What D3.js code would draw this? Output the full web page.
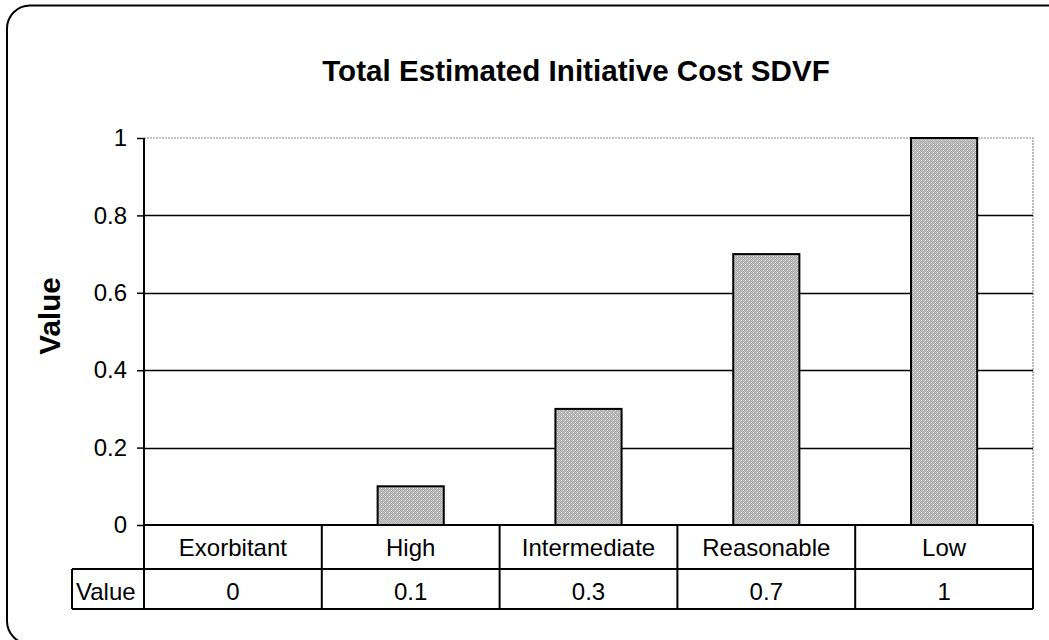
<!DOCTYPE html>
<html>
<head>
<meta charset="utf-8">
<script src="https://cdn.jsdelivr.net/npm/d3@7"></script>
<style>
  html, body { margin: 0; padding: 0; background: #fff; }
  svg { display: block; font-family: "Liberation Sans", Arial, sans-serif; }
</style>
</head>
<body>
<svg id="chart" width="1049" height="640"></svg>
<script>
// Chart data
const categories = ["Exorbitant", "High", "Intermediate", "Reasonable", "Low"];
const values = [0, 0.1, 0.3, 0.7, 1];
const valueLabels = ["0", "0.1", "0.3", "0.7", "1"];
const yTicks = [0, 0.2, 0.4, 0.6, 0.8, 1];
const yTickLabels = ["0", "0.2", "0.4", "0.6", "0.8", "1"];
const seriesName = "Value";
const titleText = "Total Estimated Initiative Cost SDVF";

const svg = d3.select("#chart");

// Plot geometry
const plot = { left: 144, right: 1033, top: 138, bottom: 525 };
const rowH1 = 44, rowH2 = 40;
const legendLeft = 72;

const x = d3.scaleBand().domain(categories).range([plot.left, plot.right]).padding(0);
const y = d3.scaleLinear().domain([0, 1]).range([plot.bottom, plot.top]);
const barW = x.bandwidth() * 0.372;

// Bar texture
const defs = svg.append("defs");
const pat = defs.append("pattern")
  .attr("id", "barfill").attr("patternUnits", "userSpaceOnUse")
  .attr("width", 4).attr("height", 4);
pat.append("rect").attr("width", 4).attr("height", 4).attr("fill", "#c4c4c4");
[[0,0],[2,0],[1,1],[3,1],[0,2],[2,2],[1,3],[3,3]].forEach(([px, py]) => {
  pat.append("rect").attr("x", px).attr("y", py).attr("width", 1).attr("height", 1).attr("fill", "#a9a9a9");
});
pat.append("rect").attr("x", 1).attr("y", 0).attr("width", 1).attr("height", 1).attr("fill", "#e4e4e4");
pat.append("rect").attr("x", 3).attr("y", 2).attr("width", 1).attr("height", 1).attr("fill", "#dcdcdc");

// Outer chart frame
svg.append("rect")
  .attr("x", 7).attr("y", 5.5).attr("width", 1080).attr("height", 638.5)
  .attr("rx", 23).attr("ry", 23)
  .attr("fill", "none").attr("stroke", "#000").attr("stroke-width", 2);

// Title
svg.append("text")
  .attr("x", 576).attr("y", 81)
  .attr("text-anchor", "middle")
  .attr("font-size", 29.6).attr("font-weight", "bold")
  .text(titleText);

// Y axis title
svg.append("text")
  .attr("transform", "translate(60,316) rotate(-90)")
  .attr("text-anchor", "middle")
  .attr("font-size", 29.6).attr("font-weight", "bold")
  .text(seriesName);

// Plot area border (top and right)
svg.append("path")
  .attr("d", `M${plot.left},${plot.top}H${plot.right}V${plot.bottom}`)
  .attr("fill", "none").attr("stroke", "#8a8a8a").attr("stroke-width", 1.2)
  .attr("stroke-dasharray", "2,1");

// Gridlines
svg.append("g").selectAll("line")
  .data(yTicks.filter(t => t > 0 && t < 1))
  .join("line")
  .attr("x1", plot.left).attr("x2", plot.right)
  .attr("y1", d => Math.round(y(d)) + 0.5).attr("y2", d => Math.round(y(d)) + 0.5)
  .attr("stroke", "#000").attr("stroke-width", 1.3);

// Y axis
const yAxis = d3.axisLeft(y).tickValues(yTicks)
  .tickFormat((d, i) => yTickLabels[i]).tickSize(7).tickPadding(10);
const gy = svg.append("g").attr("transform", `translate(${plot.left},0)`).call(yAxis);
gy.select(".domain").remove();
gy.selectAll(".tick line").attr("stroke", "#000").attr("stroke-width", 1.5);
gy.selectAll(".tick text").attr("font-size", 24).attr("fill", "#000")
  .attr("font-family", "Liberation Sans, Arial, sans-serif");

// Bars
svg.append("g").selectAll("rect")
  .data(categories.map((c, i) => ({ c, v: values[i] })).filter(d => d.v > 0))
  .join("rect")
  .attr("x", d => x(d.c) + (x.bandwidth() - barW) / 2)
  .attr("y", d => y(d.v))
  .attr("width", barW)
  .attr("height", d => y(0) - y(d.v))
  .attr("fill", "url(#barfill)")
  .attr("stroke", "#000").attr("stroke-width", 2);

// Data table
const tbl = svg.append("g");
const rowTop = plot.bottom, rowMid = plot.bottom + rowH1, rowBot = rowMid + rowH2;
// horizontal lines
tbl.append("line").attr("x1", plot.left).attr("x2", plot.right).attr("y1", rowTop).attr("y2", rowTop);
tbl.append("line").attr("x1", legendLeft).attr("x2", plot.right).attr("y1", rowMid).attr("y2", rowMid);
tbl.append("line").attr("x1", legendLeft).attr("x2", plot.right).attr("y1", rowBot).attr("y2", rowBot);
// left edge of legend cell
tbl.append("line").attr("x1", legendLeft).attr("x2", legendLeft).attr("y1", rowMid).attr("y2", rowBot);
// value axis line running through the table
tbl.append("line").attr("x1", plot.left).attr("x2", plot.left).attr("y1", plot.top).attr("y2", rowBot);
// column separators
tbl.selectAll("line.col")
  .data(categories)
  .join("line").attr("class", "col")
  .attr("x1", d => x(d) + x.bandwidth()).attr("x2", d => x(d) + x.bandwidth())
  .attr("y1", rowTop).attr("y2", rowBot);
tbl.selectAll("line").attr("stroke", "#000").attr("stroke-width", 2);

// category labels
tbl.selectAll("text.cat")
  .data(categories)
  .join("text").attr("class", "cat")
  .attr("x", d => x(d) + x.bandwidth() / 2)
  .attr("y", rowTop + 31)
  .attr("text-anchor", "middle").attr("font-size", 24)
  .text(d => d);

// value labels
tbl.selectAll("text.val")
  .data(valueLabels)
  .join("text").attr("class", "val")
  .attr("x", (d, i) => x(categories[i]) + x.bandwidth() / 2)
  .attr("y", rowMid + 31)
  .attr("text-anchor", "middle").attr("font-size", 24)
  .text(d => d);

// series name cell
tbl.append("text")
  .attr("x", legendLeft + 4).attr("y", rowMid + 31)
  .attr("font-size", 24)
  .text(seriesName);
</script>
</body>
</html>
